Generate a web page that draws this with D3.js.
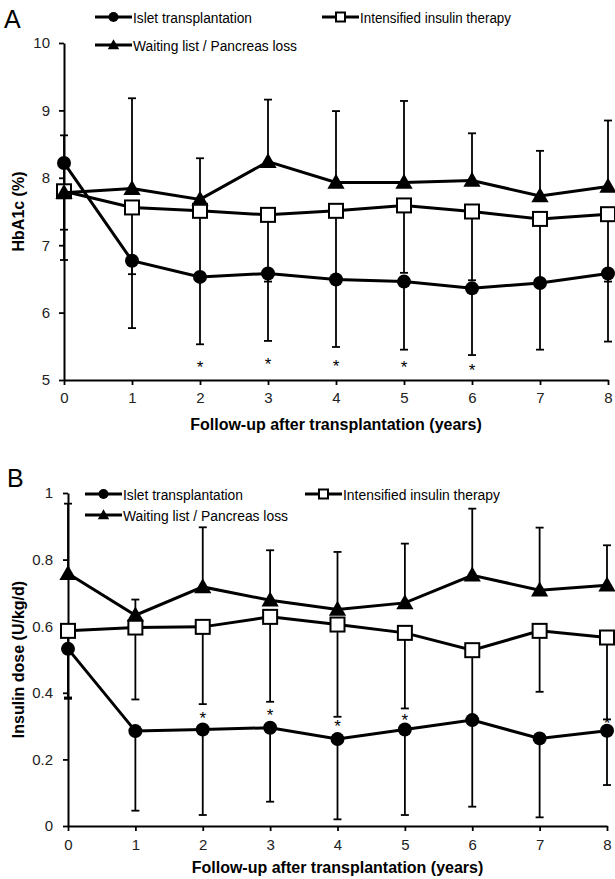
<!DOCTYPE html>
<html>
<head>
<meta charset="utf-8">
<script src="https://cdn.jsdelivr.net/npm/d3@7"></script>
<style>
  body { margin: 0; background: #fff; }
  svg { display: block; font-family: "Liberation Sans", Arial, sans-serif; }
</style>
</head>
<body>
<script>
//follow-up years
var years = [0, 1, 2, 3, 4, 5, 6, 7, 8];

//panel A: HbA1c (%)
var hba1cIslet = [8.22, 6.77, 6.53, 6.58, 6.49, 6.46, 6.36, 6.44, 6.58];
var hba1cIsletErr = [0.99, 1.00, 1.00, 1.00, 1.00, 1.01, 0.99, 0.99, 1.01];
var hba1cIntensified = [7.80, 7.56, 7.51, 7.45, 7.51, 7.59, 7.50, 7.39, 7.46];
var hba1cIntensifiedErr = [1.02, 0.99, 1.00, 0.99, 1.00, 1.00, 1.02, 1.00, 1.00];
var hba1cWaiting = [7.78, 7.84, 7.68, 8.24, 7.93, 7.93, 7.96, 7.73, 7.87];
var hba1cWaitingErr = [0.85, 1.34, 0.61, 0.92, 1.06, 1.21, 0.70, 0.67, 0.98];
var hba1cStarYears = [2, 3, 4, 5, 6];
var hba1cStarValues = [5.25, 5.29, 5.26, 5.24, 5.20];
var hba1cTicks = [5, 6, 7, 8, 9, 10];

//panel B: insulin dose (U/kg/d)
var insulinIslet = [0.532, 0.285, 0.290, 0.295, 0.261, 0.290, 0.318, 0.263, 0.286];
var insulinIsletErr = [0.150, 0.239, 0.257, 0.222, 0.241, 0.257, 0.260, 0.237, 0.163];
var insulinIntensified = [0.586, 0.596, 0.598, 0.628, 0.605, 0.580, 0.528, 0.586, 0.566];
var insulinIntensifiedErr = [0.200, 0.216, 0.232, 0.255, 0.277, 0.227, 0.200, 0.183, 0.246];
var insulinWaiting = [0.758, 0.633, 0.718, 0.678, 0.650, 0.670, 0.753, 0.708, 0.723];
var insulinWaitingErr = [0.210, 0.047, 0.179, 0.150, 0.173, 0.178, 0.200, 0.188, 0.120];
var insulinStarYears = [2, 3, 4, 5, 8];
var insulinStarValues = [0.333, 0.343, 0.309, 0.328, 0.318];
var insulinTicks = [0, 0.2, 0.4, 0.6, 0.8, 1];

var seriesNames = ["Islet transplantation", "Intensified insulin therapy", "Waiting list / Pancreas loss"];

var w = 615;
var h = 879;

var svg = d3.select("body")
            .append("svg")
            .attr("width", w)
            .attr("height", h);

//draw one marker shape at x, y
function marker(g, kind, x, y, size) {
    if (kind === "circle") {
        g.append("circle").attr("cx", x).attr("cy", y).attr("r", size / 2)
         .attr("fill", "#000");
    } else if (kind === "square") {
        g.append("rect").attr("x", x - size / 2).attr("y", y - size / 2)
         .attr("width", size).attr("height", size)
         .attr("fill", "#fff").attr("stroke", "#000").attr("stroke-width", 2);
    } else {
        var tw = size * 1.15, th = size;
        g.append("path")
         .attr("d", "M" + x + "," + (y - th * 0.58) + "L" + (x + tw / 2) + "," + (y + th * 0.42) + "L" + (x - tw / 2) + "," + (y + th * 0.42) + "Z")
         .attr("fill", "#000");
    }
}

function drawPanel(p) {
    var g = svg.append("g");

    var xScale = d3.scaleLinear().domain([0, 8]).range(p.xRange);
    var yScale = d3.scaleLinear().domain(p.yDomain).range(p.yRange);

    //axes
    var xAxis = g.append("g")
        .attr("transform", "translate(0," + p.yRange[0] + ")")
        .call(d3.axisBottom(xScale).tickValues(years).tickSize(5).tickSizeOuter(0).tickPadding(p.xPad));
    var yAxis = g.append("g")
        .attr("transform", "translate(" + p.xRange[0] + ",0)")
        .call(d3.axisLeft(yScale).tickValues(p.ticks).tickFormat(d3.format("~g")).tickSize(5).tickSizeOuter(0).tickPadding(p.yPad));
    [xAxis, yAxis].forEach(function(a) {
        a.select(".domain").attr("stroke-width", 2);
        a.selectAll(".tick line").attr("stroke-width", 1.8);
        a.selectAll(".tick text").attr("font-size", 15).attr("font-family", "Liberation Sans, Arial, sans-serif").attr("fill", "#222");
    });

    var series = [
        { vals: p.islet, err: p.isletErr, dir: -1, kind: "circle", size: 14 },
        { vals: p.intensified, err: p.intensifiedErr, dir: -1, kind: "square", size: 14 },
        { vals: p.waiting, err: p.waitingErr, dir: 1, kind: "triangle", size: 15 }
    ];

    //error bars first so markers sit on top
    series.forEach(function(s) {
        var eb = g.append("g").attr("stroke", "#000").attr("stroke-width", 1.8);
        years.forEach(function(yr, i) {
            var x = xScale(yr);
            var y0 = yScale(s.vals[i]);
            var y1 = yScale(s.vals[i] + s.dir * s.err[i]);
            eb.append("line").attr("x1", x).attr("x2", x).attr("y1", y0).attr("y2", y1);
            eb.append("line").attr("x1", x - 4).attr("x2", x + 4).attr("y1", y1).attr("y2", y1);
        });
    });

    var line = d3.line()
        .x(function(d, i) { return xScale(years[i]); })
        .y(function(d) { return yScale(d); });

    series.forEach(function(s) {
        g.append("path")
         .attr("d", line(s.vals))
         .attr("fill", "none")
         .attr("stroke", "#000")
         .attr("stroke-width", 3);
        var mg = g.append("g");
        years.forEach(function(yr, i) {
            marker(mg, s.kind, xScale(yr), yScale(s.vals[i]), s.size);
        });
    });

    //significance marks
    g.selectAll(".star")
     .data(p.starYears)
     .enter()
     .append("text")
     .attr("x", function(d) { return xScale(d); })
     .attr("y", function(d, i) { return yScale(p.starValues[i]); })
     .attr("dy", "0.55em")
     .attr("text-anchor", "middle")
     .attr("font-size", 17)
     .text("*");

    //axis titles
    g.append("text")
     .attr("x", (p.xRange[0] + p.xRange[1]) / 2)
     .attr("y", p.xTitleY)
     .attr("text-anchor", "middle")
     .attr("font-size", 16)
     .attr("font-weight", "bold")
     .text("Follow-up after transplantation (years)");
    g.append("text")
     .attr("transform", "translate(24," + (p.yRange[0] + p.yRange[1]) / 2 + ") rotate(-90)")
     .attr("text-anchor", "middle")
     .attr("font-size", 16)
     .attr("font-weight", "bold")
     .text(p.yTitle);

    //panel letter
    g.append("text")
     .attr("x", p.letterX).attr("y", p.letterY)
     .attr("font-size", 25)
     .text(p.letter);

    //legend (text is condensed in the original)
    var lg = g.append("g").attr("class", "legend");
    var items = [
        { name: seriesNames[0], kind: "circle", x: p.legX[0], y: p.legY[0], len: p.legLen[0] },
        { name: seriesNames[1], kind: "square", x: p.legX[1], y: p.legY[0], len: p.legLen[1] },
        { name: seriesNames[2], kind: "triangle", x: p.legX[0], y: p.legY[1], len: p.legLen[2] }
    ];
    items.forEach(function(it) {
        lg.append("line")
          .attr("x1", it.x).attr("x2", it.x + 37)
          .attr("y1", it.y).attr("y2", it.y)
          .attr("stroke", "#000").attr("stroke-width", 3);
        marker(lg, it.kind, it.x + 18.5, it.y, it.kind === "square" ? 9 : 10);
        lg.append("text")
          .attr("x", it.x + 38).attr("y", it.y)
          .attr("dy", "0.36em")
          .attr("font-size", 15.5)
          .attr("textLength", it.len)
          .attr("lengthAdjust", "spacingAndGlyphs")
          .text(it.name);
    });
}

drawPanel({
    letter: "A", letterX: 4, letterY: 28,
    xRange: [64, 608], yRange: [380, 43], yDomain: [5, 10],
    ticks: hba1cTicks, xPad: 7, yPad: 9, xTitleY: 430,
    yTitle: "HbA1c (%)",
    islet: hba1cIslet, isletErr: hba1cIsletErr,
    intensified: hba1cIntensified, intensifiedErr: hba1cIntensifiedErr,
    waiting: hba1cWaiting, waitingErr: hba1cWaitingErr,
    starYears: hba1cStarYears, starValues: hba1cStarValues,
    legX: [95, 322], legY: [17, 45], legLen: [119, 151, 164]
});

drawPanel({
    letter: "B", letterX: 7, letterY: 487,
    xRange: [68, 607], yRange: [826, 493], yDomain: [0, 1],
    ticks: insulinTicks, xPad: 8, yPad: 10, xTitleY: 873,
    yTitle: "Insulin dose (U/kg/d)",
    islet: insulinIslet, isletErr: insulinIsletErr,
    intensified: insulinIntensified, intensifiedErr: insulinIntensifiedErr,
    waiting: insulinWaiting, waitingErr: insulinWaitingErr,
    starYears: insulinStarYears, starValues: insulinStarValues,
    legX: [85, 305], legY: [494, 515], legLen: [120, 157, 165]
});
</script>
</body>
</html>
